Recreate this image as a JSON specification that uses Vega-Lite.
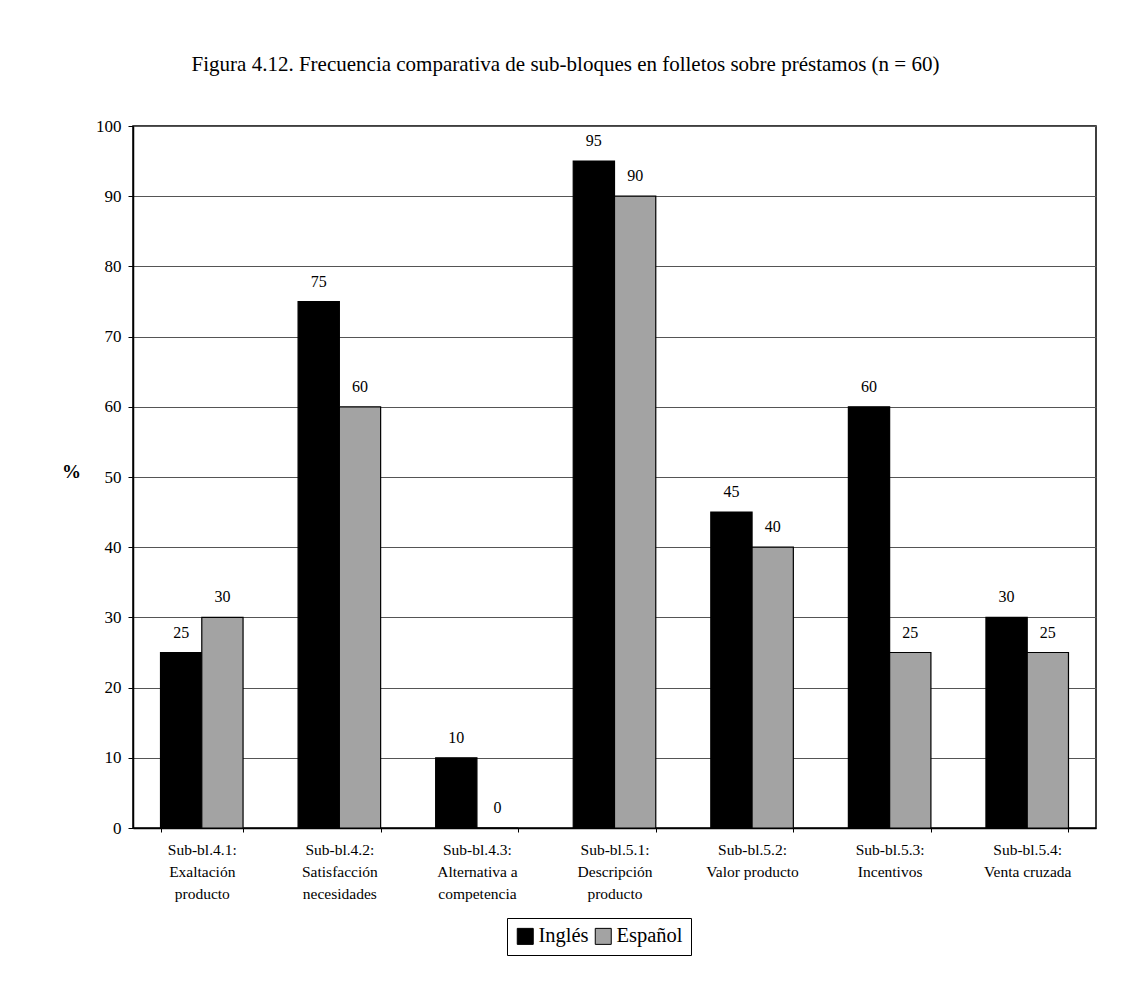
{
  "$schema": "https://vega.github.io/schema/vega-lite/v6.json",
  "width": 963,
  "height": 702,
  "autosize": "none",
  "padding": {"left": 133, "top": 126, "right": 33, "bottom": 153},
  "background": "white",
  "title": {
    "text": "Figura 4.12. Frecuencia comparativa de sub-bloques en folletos sobre préstamos (n = 60)",
    "font": "Liberation Serif",
    "fontSize": 21,
    "fontWeight": "normal",
    "color": "black",
    "anchor": "middle",
    "dx": -49,
    "offset": 42
  },
  "config": {
    "font": "Liberation Serif",
    "view": {"stroke": "black", "strokeWidth": 1.5}
  },
  "data": {
    "values": [
      {"bloque": "Sub-bl.4.1:|Exaltación|producto", "idioma": "Inglés", "pct": 25},
      {"bloque": "Sub-bl.4.1:|Exaltación|producto", "idioma": "Español", "pct": 30},
      {"bloque": "Sub-bl.4.2:|Satisfacción|necesidades", "idioma": "Inglés", "pct": 75},
      {"bloque": "Sub-bl.4.2:|Satisfacción|necesidades", "idioma": "Español", "pct": 60},
      {"bloque": "Sub-bl.4.3:|Alternativa a|competencia", "idioma": "Inglés", "pct": 10},
      {"bloque": "Sub-bl.4.3:|Alternativa a|competencia", "idioma": "Español", "pct": 0},
      {"bloque": "Sub-bl.5.1:|Descripción|producto", "idioma": "Inglés", "pct": 95},
      {"bloque": "Sub-bl.5.1:|Descripción|producto", "idioma": "Español", "pct": 90},
      {"bloque": "Sub-bl.5.2:|Valor producto", "idioma": "Inglés", "pct": 45},
      {"bloque": "Sub-bl.5.2:|Valor producto", "idioma": "Español", "pct": 40},
      {"bloque": "Sub-bl.5.3:|Incentivos", "idioma": "Inglés", "pct": 60},
      {"bloque": "Sub-bl.5.3:|Incentivos", "idioma": "Español", "pct": 25},
      {"bloque": "Sub-bl.5.4:|Venta cruzada", "idioma": "Inglés", "pct": 30},
      {"bloque": "Sub-bl.5.4:|Venta cruzada", "idioma": "Español", "pct": 25}
    ]
  },
  "encoding": {
    "x": {
      "field": "bloque",
      "type": "nominal",
      "sort": null,
      "scale": {"paddingInner": 0.4, "paddingOuter": 0.2},
      "axis": {
        "title": null,
        "labelAngle": 0,
        "labelExpr": "split(datum.label, '|')",
        "labelFont": "Liberation Serif",
        "labelFontSize": 15.5,
        "labelColor": "black",
        "labelLineHeight": 22,
        "labelPadding": 10,
        "labelBaseline": "top",
        "domainColor": "black",
        "domainWidth": 1.5,
        "tickBand": "extent",
        "tickColor": "black",
        "tickSize": 4,
        "grid": false
      }
    },
    "xOffset": {"field": "idioma", "type": "nominal", "sort": ["Inglés", "Español"]},
    "y": {
      "field": "pct",
      "type": "quantitative",
      "scale": {"domain": [0, 100]},
      "axis": {
        "title": "%",
        "titleAngle": 0,
        "titleFont": "Liberation Serif",
        "titleFontSize": 19,
        "titleFontWeight": "bold",
        "titleColor": "black",
        "titleX": -62,
        "titleY": 345,
        "titleAlign": "center",
        "titleBaseline": "middle",
        "values": [0, 10, 20, 30, 40, 50, 60, 70, 80, 90, 100],
        "labelFont": "Liberation Serif",
        "labelFontSize": 17,
        "labelColor": "black",
        "labelPadding": 7,
        "tickSize": 5,
        "tickColor": "black",
        "domainColor": "black",
        "domainWidth": 1.5,
        "grid": true,
        "gridColor": "#555555",
        "gridWidth": 1
      }
    }
  },
  "layer": [
    {
      "mark": {"type": "bar", "stroke": "black", "strokeWidth": 1.2},
      "encoding": {
        "color": {
          "field": "idioma",
          "type": "nominal",
          "sort": ["Inglés", "Español"],
          "scale": {"domain": ["Inglés", "Español"], "range": ["#000000", "#a3a3a3"]},
          "legend": {
            "title": null,
            "orient": "none",
            "direction": "horizontal",
            "legendX": 374,
            "legendY": 792,
            "symbolType": "square",
            "symbolSize": 256,
            "symbolStrokeColor": "black",
            "symbolStrokeWidth": 1,
            "labelFont": "Liberation Serif",
            "labelFontSize": 20.5,
            "labelColor": "black",
            "labelOffset": 3,
            "columnPadding": 4,
            "strokeColor": "black",
            "padding": 8,
            "fillColor": "white"
          }
        }
      }
    },
    {
      "mark": {
        "type": "text",
        "baseline": "bottom",
        "dy": -12,
        "font": "Liberation Serif",
        "fontSize": 16,
        "color": "black"
      },
      "encoding": {
        "text": {"field": "pct", "type": "quantitative"}
      }
    }
  ]
}
